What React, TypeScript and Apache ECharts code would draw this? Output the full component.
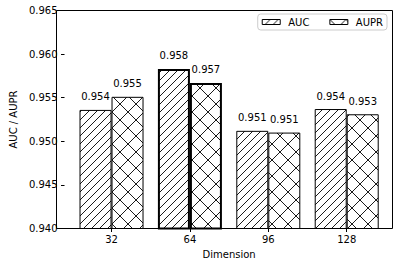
import React, { useEffect, useRef } from "react";
import * as echarts from "echarts";

const categories = ["32", "64", "96", "128"];
const seriesNames = ["AUC", "AUPR"];
const aucValues = [0.9536, 0.9583, 0.9512, 0.9537];
const auprValues = [0.9551, 0.9567, 0.951, 0.9531];
const yMin = 0.94;
const yMax = 0.965;
const yInterval = 0.005;
const highlightedCategory = "64";

const FONT = "DejaVu Sans";

function makeHatch(size: number, kind: "slash" | "cross") {
  const c = document.createElement("canvas");
  c.width = size;
  c.height = size;
  const ctx = c.getContext("2d")!;
  ctx.fillStyle = "#ffffff";
  ctx.fillRect(0, 0, size, size);
  ctx.strokeStyle = "#000000";
  ctx.lineWidth = 0.9;
  ctx.beginPath();
  for (const k of [0, size, 2 * size]) {
    ctx.moveTo(-2, k + 2);
    ctx.lineTo(k + 2, -2);
  }
  if (kind === "cross") {
    for (const k of [-size, 0, size]) {
      ctx.moveTo(-2, -2 - k);
      ctx.lineTo(size + 2, size + 2 - k);
    }
  }
  ctx.stroke();
  return { image: c as any, repeat: "repeat", imageWidth: size, imageHeight: size } as any;
}

export default function App() {
  const ref = useRef<HTMLDivElement>(null);
  useEffect(() => {
    document.body.style.margin = "0";
    const chart = echarts.init(ref.current!, null, { renderer: "svg" });
    const slash = makeHatch(8, "slash");
    const cross = makeHatch(16, "cross");
    const mkData = (vals: number[]) =>
      vals.map((v, i) =>
        categories[i] === highlightedCategory ? { value: v, itemStyle: { borderWidth: 2 } } : { value: v }
      );
    const label = {
      show: true,
      position: "top",
      distance: 8,
      fontSize: 10,
      fontFamily: FONT,
      color: "#000",
      formatter: (p: any) => Number(p.value).toFixed(3),
    };
    chart.setOption({
      animation: false,
      textStyle: { fontFamily: FONT },
      grid: [
        { left: 64.3, right: 12.1, top: 10.5, bottom: 37.5, show: false },
        {
          left: 56.5,
          right: 5.5,
          top: 10.5,
          bottom: 37.5,
          show: true,
          borderColor: "#000",
          borderWidth: 1,
          backgroundColor: "transparent",
          z: 3,
        },
      ],
      legend: {
        right: 11,
        top: 14,
        icon: "path://M0 0H18V5H0Z",
        symbolKeepAspect: false,
        itemWidth: 18,
        itemHeight: 5,
        itemGap: 20,
        padding: [3, 4, 3, 4],
        borderColor: "#cccccc",
        borderWidth: 1,
        borderRadius: 3,
        backgroundColor: "#fff",
        itemStyle: { borderColor: "#000", borderWidth: 1 },
        data: seriesNames,
        textStyle: { fontSize: 10, fontFamily: FONT, color: "#000", padding: [0, 0, 0, 3] },
      },
      xAxis: [
        {
          type: "category",
          gridIndex: 0,
          data: categories,
          name: "Dimension",
          nameLocation: "middle",
          nameGap: 20,
          nameTextStyle: { fontSize: 10, fontFamily: FONT, color: "#000" },
          axisLine: { show: false },
          axisTick: { show: true, alignWithLabel: true, length: 3.5, lineStyle: { color: "#000" } },
          axisLabel: { fontSize: 10, fontFamily: FONT, color: "#000", margin: 6 },
          splitLine: { show: false },
        },
        { type: "value", gridIndex: 1, show: false },
      ],
      yAxis: [
        {
          type: "value",
          gridIndex: 0,
          min: yMin,
          max: yMax,
          interval: yInterval,
          offset: 7.8,
          name: "AUC / AUPR",
          nameLocation: "middle",
          nameGap: 39,
          nameTextStyle: { fontSize: 10, fontFamily: FONT, color: "#000" },
          axisLine: { show: false },
          axisTick: { show: true, length: 3.5, lineStyle: { color: "#000" } },
          axisLabel: {
            fontSize: 10,
            fontFamily: FONT,
            color: "#000",
            margin: 7,
            formatter: (v: number) => v.toFixed(3),
          },
          splitLine: { show: false },
        },
        { type: "value", gridIndex: 1, show: false },
      ],
      series: [
        {
          name: seriesNames[0],
          type: "bar",
          xAxisIndex: 0,
          yAxisIndex: 0,
          barWidth: 32,
          barGap: "0%",
          data: mkData(aucValues),
          itemStyle: { color: slash, borderColor: "#000", borderWidth: 1 },
          label,
        },
        {
          name: seriesNames[1],
          type: "bar",
          xAxisIndex: 0,
          yAxisIndex: 0,
          barWidth: 32,
          barGap: "0%",
          data: mkData(auprValues),
          itemStyle: { color: cross, borderColor: "#000", borderWidth: 1 },
          label,
        },
      ],
    });
    return () => chart.dispose();
  }, []);
  return <div ref={ref} style={{ width: 398, height: 266 }} />;
}
